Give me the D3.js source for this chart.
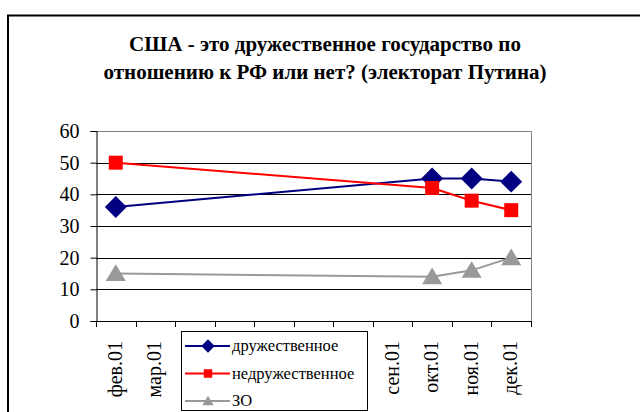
<!DOCTYPE html>
<html>
<head>
<meta charset="utf-8">
<style>
body { margin: 0; background: #fff; }
svg { display: block; }
</style>
</head>
<body>
<svg id="chart" width="640" height="412"></svg>
<script src="https://cdn.jsdelivr.net/npm/d3@7/dist/d3.min.js"></script>
<script>
var months = ["фев.01", "мар.01", "апр.01", "май.01", "июн.01", "июл.01", "авг.01", "сен.01", "окт.01", "ноя.01", "дек.01"];
var friendly = [36, null, null, null, null, null, null, null, 45, 45, 44];
var unfriendly = [50, null, null, null, null, null, null, null, 42, 38, 35];
var undecided = [15, null, null, null, null, null, null, null, 14, 16, 20];
var yTicks = [0, 10, 20, 30, 40, 50, 60];
var titleLines = ["США - это дружественное государство по", "отношению к РФ или нет? (электорат Путина)"];

var serif = "'Liberation Serif', 'Times New Roman', 'DejaVu Serif', serif";
var diamond = {
  draw: function(ctx, size) {
    var r = Math.sqrt(size / 2);
    ctx.moveTo(0, -r); ctx.lineTo(r, 0); ctx.lineTo(0, r); ctx.lineTo(-r, 0); ctx.closePath();
  }
};
var triangle = {
  draw: function(ctx, size) {
    var h = Math.sqrt(size);
    ctx.moveTo(0, -h * 0.55); ctx.lineTo(h * 0.6, h * 0.45); ctx.lineTo(-h * 0.6, h * 0.45); ctx.closePath();
  }
};

var series = [
  {name: "дружественное", values: friendly, color: "#000080", symbol: diamond, size: 240, lsize: 90},
  {name: "недружественное", values: unfriendly, color: "#ff0000", symbol: d3.symbolSquare, size: 196, lsize: 72},
  {name: "ЗО", values: undecided, color: "#999999", symbol: triangle, size: 280, lsize: 90}
];

var svg = d3.select("#chart");
var plotL = 96, plotR = 531, plotT = 131, plotB = 321;

var x = d3.scaleBand().domain(months).range([plotL, plotR]);
var y = d3.scaleLinear().domain([0, 60]).range([plotB, plotT]);

// outer frame, runs off the page on the right and bottom
svg.append("rect")
  .attr("x", 8).attr("y", 15.5).attr("width", 700).attr("height", 500)
  .attr("fill", "none").attr("stroke", "#000").attr("stroke-width", 2);

svg.selectAll("text.title")
  .data(titleLines)
  .enter().append("text")
  .attr("class", "title")
  .attr("x", 325).attr("y", function(d, i) { return 51 + i * 28; })
  .attr("text-anchor", "middle")
  .style("font-family", serif)
  .attr("font-weight", "bold")
  .attr("font-size", 21)
  .text(function(d) { return d; });

// gridlines
svg.append("g").selectAll("line")
  .data(yTicks.filter(function(d) { return d > 0 && d < 60; }))
  .enter().append("line")
  .attr("x1", plotL).attr("x2", plotR)
  .attr("y1", function(d) { return Math.round(y(d)) + 0.5; })
  .attr("y2", function(d) { return Math.round(y(d)) + 0.5; })
  .attr("stroke", "#000");

// plot border top/right
svg.append("path")
  .attr("d", "M" + plotL + "," + (plotT + 0.5) + "H" + (plotR + 0.5) + "V" + plotB)
  .attr("fill", "none").attr("stroke", "#808080");

// y axis
var yAxis = svg.append("g")
  .attr("transform", "translate(" + (plotL + 0.5) + ",0)")
  .call(d3.axisLeft(y).tickValues(yTicks).tickSize(6).tickPadding(11));
yAxis.attr("font-size", 20).style("font-family", serif);
yAxis.select(".domain").attr("stroke", "#000");
yAxis.selectAll("text").attr("fill", "#000");

// x axis
svg.append("line")
  .attr("x1", plotL).attr("x2", plotR + 1)
  .attr("y1", plotB + 0.5).attr("y2", plotB + 0.5)
  .attr("stroke", "#000");
svg.append("g").selectAll("line")
  .data(months.concat(["end"]))
  .enter().append("line")
  .attr("x1", function(d, i) { return Math.round(plotL + i * x.bandwidth()) + 0.5; })
  .attr("x2", function(d, i) { return Math.round(plotL + i * x.bandwidth()) + 0.5; })
  .attr("y1", plotB).attr("y2", plotB + 6)
  .attr("stroke", "#000");
svg.append("g").selectAll("text")
  .data(months)
  .enter().append("text")
  .attr("transform", function(d) { return "translate(" + (x(d) + x.bandwidth() / 2 + 6) + "," + (plotB + 20) + ") rotate(-90)"; })
  .attr("text-anchor", "end")
  .style("font-family", serif)
  .attr("font-size", 20)
  .text(function(d) { return d; });

// series
var line = d3.line()
  .x(function(d) { return x(d.m) + x.bandwidth() / 2; })
  .y(function(d) { return y(d.v); });

series.forEach(function(s) {
  var pts = months.map(function(m, i) { return {m: m, v: s.values[i]}; })
    .filter(function(d) { return d.v != null; });
  svg.append("path")
    .datum(pts)
    .attr("d", line)
    .attr("fill", "none").attr("stroke", s.color).attr("stroke-width", 2);
  svg.append("g").selectAll("path")
    .data(pts)
    .enter().append("path")
    .attr("transform", function(d) { return "translate(" + line.x()(d) + "," + line.y()(d) + ")"; })
    .attr("d", d3.symbol().type(s.symbol).size(s.size))
    .attr("fill", s.color);
});

// legend
var legend = svg.append("g");
legend.append("rect")
  .attr("x", 181.5).attr("y", 331.5).attr("width", 186).attr("height", 79)
  .attr("fill", "#fff").attr("stroke", "#000");
var item = legend.selectAll("g.item")
  .data(series)
  .enter().append("g")
  .attr("transform", function(d, i) { return "translate(0," + (346 + i * 27.5) + ")"; });
item.append("line")
  .attr("x1", 185).attr("x2", 230)
  .attr("stroke", function(d) { return d.color; }).attr("stroke-width", 2);
item.append("path")
  .attr("transform", "translate(208,0)")
  .attr("d", function(d) { return d3.symbol().type(d.symbol).size(d.lsize)(); })
  .attr("fill", function(d) { return d.color; });
item.append("text")
  .attr("x", 232).attr("y", 5)
  .style("font-family", serif)
  .attr("font-size", 16.5)
  .text(function(d) { return d.name; });
</script>
</body>
</html>
